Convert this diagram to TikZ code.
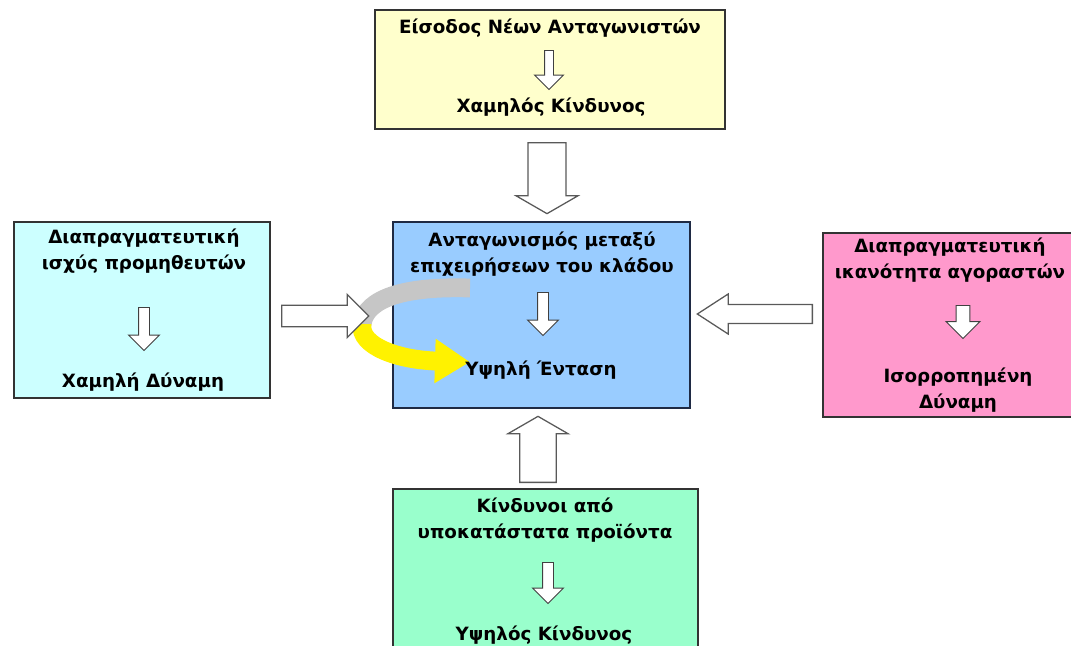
\documentclass[tikz,border=0pt]{standalone}
\usepackage{fontspec}
\setmainfont{DejaVu Sans}
\usepackage{tikz}
\usetikzlibrary{arrows.meta, positioning, shapes.arrows}

\definecolor{entryfill}{HTML}{FFFFCC}
\definecolor{rivfill}{HTML}{99CCFF}
\definecolor{suppfill}{HTML}{CCFFFF}
\definecolor{buyfill}{HTML}{FF99CC}
\definecolor{subsfill}{HTML}{99FFCC}
\definecolor{rivedge}{HTML}{1F2A44}

\begin{document}
\begin{tikzpicture}[
  x=0.025cm, y=-0.025cm,
  force/.style={rectangle, draw=black!80, line width=1pt, inner sep=0pt},
  txt/.style={align=center, font=\bfseries\fontsize{13}{18.5}\selectfont, inner sep=0pt},
  bigarrow/.style={single arrow, draw=black!65, fill=white, line width=0.9pt, inner xsep=0pt, anchor=tail},
  smallarrow/.style={single arrow, draw=black!75, fill=white, line width=0.7pt, inner xsep=0pt,
    inner ysep=0.125cm, minimum width=0.6cm, single arrow tip angle=90, anchor=tail, rotate=-90}
]
\clip (0,0) rectangle (1071,645);

% the five forces
\node[force, fill=entryfill, minimum width=8.75cm, minimum height=2.975cm] (entry) at (550,69.5) {};
\node[force, fill=rivfill, draw=rivedge, minimum width=7.425cm, minimum height=4.65cm] (rivalry) at (541.5,315) {};
\node[force, fill=suppfill, minimum width=6.4cm, minimum height=4.4cm] (suppliers) at (142,310) {};
\node[force, fill=buyfill, minimum width=6.75cm, minimum height=4.6cm] (buyers) at (958,325) {};
\node[force, fill=subsfill, minimum width=7.625cm, minimum height=4.3cm] (substitutes) at (545.5,575) {};

% curved arrow in the middle box
\coordinate (swirlstart) at (470,288);
\coordinate (swirlturn) at (362,324);
\coordinate (swirlend) at (470,362);
\draw[line width=0.47cm, gray!45] (swirlstart) .. controls (405,286) and (366,298) .. (swirlturn);
\draw[line width=0.47cm, yellow, -{Triangle[length=0.875cm, width=1.05cm]}]
  (swirlturn) .. controls (359,347) and (400,360) .. (swirlend);

% texts
\node[txt] (entrytitle) at (550,28) {Είσοδος Νέων Ανταγωνιστών};
\node[txt] (entryrisk) at (551,107) {Χαμηλός Κίνδυνος};
\node[txt] (rivtitle) at (542,254) {Ανταγωνισμός μεταξύ\\επιχειρήσεων του κλάδου};
\node[txt] (rivlevel) at (541,370) {Υψηλή Ένταση};
\node[txt] (supptitle) at (144,251) {Διαπραγματευτική\\ισχύς προμηθευτών};
\node[txt] (supppower) at (143,382) {Χαμηλή Δύναμη};
\node[txt] (buytitle) at (950,260) {Διαπραγματευτική\\ικανότητα αγοραστών};
\node[txt] (buypower) at (958,390) {Ισορροπημένη\\Δύναμη};
\node[txt] (substitle) at (545,520) {Κίνδυνοι από\\υποκατάστατα προϊόντα};
\node[txt] (subsrisk) at (544,635) {Υψηλός Κίνδυνος};

% small arrows inside the boxes
\node[smallarrow, minimum height=0.975cm, inner ysep=0.1cm] (entrystep) at (549,50) {};
\node[smallarrow, minimum height=1.075cm] (rivstep) at (543,292) {};
\node[smallarrow, minimum height=1.075cm] (suppstep) at (144,307) {};
\node[smallarrow, minimum height=0.825cm, inner ysep=0.16cm] (buystep) at (963,305) {};
\node[smallarrow, minimum height=1.025cm] (subsstep) at (548,562) {};

% block arrows towards the rivalry box
\node[bigarrow, rotate=-90, inner ysep=0.375cm, minimum width=1.55cm, minimum height=1.775cm,
  single arrow tip angle=120] (entryarrow) at (547,142) {};
\node[bigarrow, rotate=90, inner ysep=0.375cm, minimum width=1.5cm, minimum height=1.65cm,
  single arrow tip angle=120] (subsarrow) at (538,483) {};
\node[bigarrow, inner ysep=0.2375cm, minimum width=1.075cm, minimum height=2.175cm,
  single arrow tip angle=90] (supparrow) at (281,316) {};
\node[bigarrow, rotate=180, inner ysep=0.2125cm, minimum width=1cm, minimum height=2.875cm,
  single arrow tip angle=66] (buyarrow) at (813,314) {};
\end{tikzpicture}
\end{document}
